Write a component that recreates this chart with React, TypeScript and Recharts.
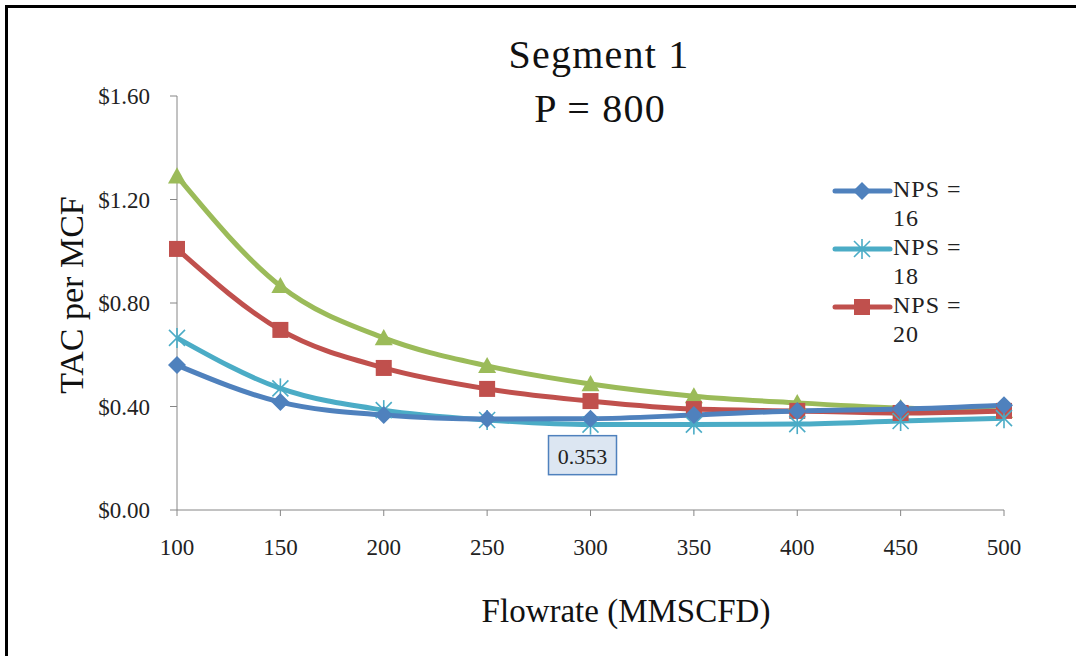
import React from 'react';
import { LineChart, Line, XAxis, YAxis, LabelList } from 'recharts';

// Flowrate categories (MMSCFD)
const flowrates = [100, 150, 200, 250, 300, 350, 400, 450, 500];

// TAC per MCF for each NPS case
const nps16 = [0.56, 0.417, 0.367, 0.352, 0.353, 0.367, 0.383, 0.39, 0.405];
const nps18 = [0.665, 0.47, 0.386, 0.348, 0.33, 0.33, 0.332, 0.344, 0.355];
const nps20 = [1.009, 0.696, 0.549, 0.468, 0.421, 0.39, 0.383, 0.375, 0.383];
const s4 = [1.29, 0.866, 0.665, 0.557, 0.487, 0.44, 0.414, 0.394, 0.383];

const yTicks = [0, 0.4, 0.8, 1.2, 1.6];

const FONT = '"Liberation Serif", "Times New Roman", serif';

const data = flowrates.map((f, i) => ({
  flow: f,
  nps16: nps16[i],
  nps18: nps18[i],
  nps20: nps20[i],
  s4: s4[i],
}));

type Shape = 'diamond' | 'star' | 'square' | 'triangle';

function Marker({ cx, cy, color, shape }: { cx: number; cy: number; color: string; shape: Shape }) {
  if (cx == null || cy == null || isNaN(cx) || isNaN(cy)) return null;
  if (shape === 'diamond') {
    const r = 9;
    return <path d={`M${cx},${cy - r}L${cx + r},${cy}L${cx},${cy + r}L${cx - r},${cy}Z`} fill={color} />;
  }
  if (shape === 'square') {
    const r = 8;
    return <rect x={cx - r} y={cy - r} width={2 * r} height={2 * r} fill={color} />;
  }
  if (shape === 'triangle') {
    const r = 9;
    return <path d={`M${cx},${cy - r}L${cx + r},${cy + r * 0.8}L${cx - r},${cy + r * 0.8}Z`} fill={color} />;
  }
  const r = 10;
  const d = r * 0.8;
  return (
    <g stroke={color} strokeWidth={1.6} fill="none">
      <line x1={cx} y1={cy - r} x2={cx} y2={cy + r} />
      <line x1={cx - d} y1={cy - d} x2={cx + d} y2={cy + d} />
      <line x1={cx - d} y1={cy + d} x2={cx + d} y2={cy - d} />
    </g>
  );
}

const series: { key: string; name: string; color: string; shape: Shape; inLegend: boolean }[] = [
  { key: 'nps16', name: 'NPS = 16', color: '#4F81BD', shape: 'diamond', inLegend: true },
  { key: 'nps18', name: 'NPS = 18', color: '#4BACC6', shape: 'star', inLegend: true },
  { key: 'nps20', name: 'NPS = 20', color: '#C0504D', shape: 'square', inLegend: true },
  { key: 's4', name: '', color: '#9BBB59', shape: 'triangle', inLegend: false },
];

// Draw order: green behind, then red, cyan, blue on top
const drawOrder = ['s4', 'nps20', 'nps18', 'nps16'];

function LegendBox() {
  const items = series.filter((s) => s.inLegend);
  return (
    <svg width={190} height={180} style={{ display: 'block', overflow: 'visible' }}>
      {items.map((s, i) => {
        const y = 19 + i * 58;
        const first = s.name.slice(0, 5);
        const second = s.name.slice(6);
        return (
          <g key={s.key}>
            <line x1={5} y1={y} x2={60} y2={y} stroke={s.color} strokeWidth={5} strokeLinecap="round" />
            <Marker cx={32} cy={y} color={s.color} shape={s.shape} />
            <text x={63} y={y + 6} fontFamily={FONT} fontSize={24} letterSpacing={1} fill="#222">{first}</text>
            <text x={63} y={y + 35} fontFamily={FONT} fontSize={24} letterSpacing={1} fill="#222">{second}</text>
          </g>
        );
      })}
    </svg>
  );
}

function ValueTag(props: any) {
  const { x, y, value, index } = props;
  if (index !== 4) return null;
  const w = 68;
  const h = 39;
  const bx = x - 42;
  const by = y + 17;
  return (
    <g>
      <rect x={bx} y={by} width={w} height={h} fill="#DCE6F2" stroke="#4F81BD" strokeWidth={1.5} />
      <text x={bx + w / 2} y={by + 28} textAnchor="middle" fontFamily={FONT} fontSize={22} fill="#222">
        {Number(value).toFixed(3)}
      </text>
    </g>
  );
}

export default function App() {
  return (
    <div style={{ position: 'fixed', left: 0, top: 0, width: 1076, height: 656, overflow: 'hidden', background: '#fff' }}>
      <div
        style={{
          position: 'absolute',
          left: 5,
          top: 5,
          width: 1200,
          height: 800,
          borderTop: '3px solid #000',
          borderLeft: '3px solid #000',
        }}
      />
      <div style={{ position: 'absolute', left: 0, top: 0 }}>
        <LineChart
          width={1076}
          height={656}
          data={data}
          margin={{ top: 96, right: 72, bottom: 0, left: 77 }}
        >
          <XAxis
            dataKey="flow"
            height={146}
            tickSize={6}
            tickMargin={23}
            stroke="#868686"
            tick={{ fill: '#222', fontFamily: FONT, fontSize: 23 }}
            axisLine={{ stroke: '#868686' }}
            tickLine={{ stroke: '#868686' }}
            interval={0}
          />
          <YAxis
            width={100}
            domain={[0, 1.6]}
            ticks={yTicks}
            tickFormatter={(v: number) => `$${v.toFixed(2)}`}
            tickSize={7}
            tickMargin={20}
            stroke="#868686"
            tick={{ fill: '#222', fontFamily: FONT, fontSize: 23 }}
            axisLine={{ stroke: '#868686' }}
            tickLine={{ stroke: '#868686' }}
          />
          {drawOrder.map((k) => {
            const s = series.find((x) => x.key === k)!;
            return (
              <Line
                key={s.key}
                dataKey={s.key}
                type="monotone"
                stroke={s.color}
                strokeWidth={5}
                isAnimationActive={false}
                dot={(p: any) => <Marker key={`${s.key}-${p.index}`} cx={p.cx} cy={p.cy} color={s.color} shape={s.shape} />}
                activeDot={false}
              >
                {s.key === 'nps16' ? <LabelList dataKey="nps16" content={ValueTag} /> : null}
              </Line>
            );
          })}
        </LineChart>
      </div>
      <div style={{ position: 'absolute', left: 830, top: 172 }}>
        <LegendBox />
      </div>
      <svg width={1076} height={656} style={{ position: 'absolute', left: 0, top: 0, pointerEvents: 'none' }}>
        <text x={599} y={68} textAnchor="middle" fontFamily={FONT} fontSize={40} letterSpacing={1.2} fill="#111">
          Segment 1
        </text>
        <text x={600} y={122} textAnchor="middle" fontFamily={FONT} fontSize={40} letterSpacing={1.2} fill="#111">
          P = 800
        </text>
        <text x={626} y={622} textAnchor="middle" fontFamily={FONT} fontSize={33} fill="#111">
          Flowrate (MMSCFD)
        </text>
        <text
          x={83}
          y={295}
          textAnchor="middle"
          fontFamily={FONT}
          fontSize={34}
          fill="#111"
          transform="rotate(-90 83 295)"
        >
          TAC per MCF
        </text>
      </svg>
    </div>
  );
}
